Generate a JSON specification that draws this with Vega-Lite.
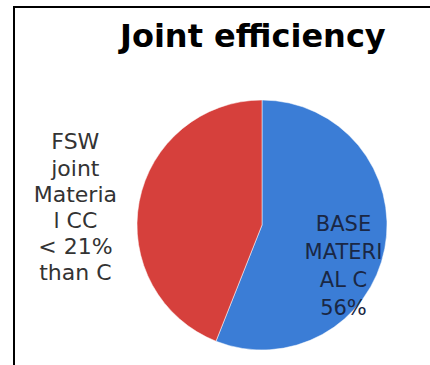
{
  "$schema": "https://vega.github.io/schema/vega-lite/v6.json",
  "width": 416,
  "height": 358,
  "autosize": "none",
  "padding": {"left": 14, "top": 7, "right": 0, "bottom": 0},
  "background": "#ffffff",
  "view": {"stroke": "#000000", "strokeWidth": 2, "strokeDash": [416, 774, 358]},
  "config": {
    "view": {"stroke": "#000000", "strokeWidth": 2, "strokeDash": [416, 774, 358]},
    "style": {
      "view": {"stroke": "#000000", "strokeWidth": 2, "strokeDash": [416, 774, 358]},
      "cell": {"stroke": "#000000", "strokeWidth": 2, "strokeDash": [416, 774, 358]}
    },
    "font": "DejaVu Sans"
  },
  "title": {
    "text": "Joint efficiency",
    "font": "DejaVu Sans",
    "fontSize": 32,
    "fontWeight": "bold",
    "color": "#000000",
    "anchor": "start",
    "frame": "group",
    "orient": "top",
    "baseline": "alphabetic",
    "offset": 0,
    "dx": 106,
    "dy": 72
  },
  "data": {
    "values": [
      {"material": "BASE MATERIAL C", "share": 56, "label": "BASE\nMATERI\nAL C\n56%"},
      {"material": "FSW joint Material CC", "share": 44, "label": "FSW\njoint\nMateria\nl CC\n< 21%\nthan C"}
    ]
  },
  "encoding": {
    "theta": {"field": "share", "type": "quantitative", "stack": true},
    "order": {"field": "material", "type": "nominal", "sort": "ascending"}
  },
  "layer": [
    {
      "mark": {"type": "arc", "outerRadius": 125, "xOffset": 40, "yOffset": 39, "stroke": "#ffffff", "strokeWidth": 0.5},
      "encoding": {
        "color": {
          "field": "material",
          "type": "nominal",
          "scale": {"domain": ["BASE MATERIAL C", "FSW joint Material CC"], "range": ["#3b7dd6", "#d6403c"]},
          "legend": null
        }
      }
    },
    {
      "mark": {"type": "text", "radius": 85, "xOffset": 40, "yOffset": 39, "dx": -2, "dy": -16, "lineBreak": "\n", "lineHeight": 28, "fontSize": 21, "font": "DejaVu Sans", "color": "#1a2744", "align": "center", "baseline": "middle"},
      "encoding": {
        "text": {
          "condition": {"test": "datum.material !== 'BASE MATERIAL C'", "value": ""},
          "field": "label",
          "type": "nominal"
        }
      }
    },
    {
      "mark": {"type": "text", "radius": 190, "xOffset": 40, "yOffset": 39, "dy": -47, "lineBreak": "\n", "lineHeight": 26.2, "fontSize": 22, "font": "DejaVu Sans", "color": "#333333", "align": "center", "baseline": "middle"},
      "encoding": {
        "text": {
          "condition": {"test": "datum.material === 'BASE MATERIAL C'", "value": ""},
          "field": "label",
          "type": "nominal"
        }
      }
    }
  ]
}
